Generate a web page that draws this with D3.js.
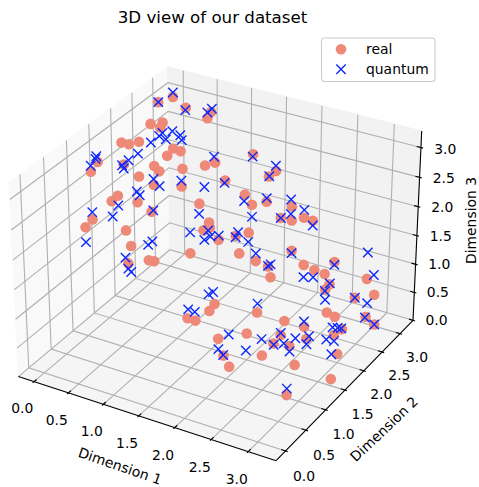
<!DOCTYPE html>
<html>
<head>
<meta charset="utf-8">
<script src="https://cdn.jsdelivr.net/npm/d3@7"></script>
<style>
body { margin: 0; background: #fff; }
text { font-family: "DejaVu Sans"; fill: #000; }
</style>
</head>
<body>
<svg id="chart" width="479" height="487"></svg>
<script>
var realDim1 = [0.08,0.04,0.31,0.66,0.66,0.15,0.21,0.23,0.13,0.18,0.22,0.44,0.54,0.46,0.14,0.17,0.29,0.46,0.52,0.68,0.94,1.05,0.45,1.29,0.58,0.78,0.47,0.47,0.61,1.11,0.74,0.39,0.34,
    0.62,1.34,1.38,1.32,1.56,1.75,0.65,1.16,0.77,0.81,1.85,0.63,1.47,1.86,1.81,1.62,1.77,1.93,2.27,2.20,2.35,2.48,2.58,1.89,2.08,2.43,2.25,2.52,2.60,2.67,2.74,2.28,2.97,
    3.03,2.71,2.68,2.89,2.27,2.73,2.80,2.97,2.55,2.69,3.06,2.27,2.61,2.91,2.90,2.77,2.62,2.72,2.58,3.02,2.85,3.12,2.97,1.70,1.68,1.46,1.57,1.96,2.12,2.25];
var realDim2 = [2.98,2.69,2.91,2.94,2.85,2.32,2.51,2.42,1.67,1.76,1.93,2.38,2.39,2.20,1.11,0.91,1.46,1.89,1.91,2.20,2.31,2.37,1.55,2.20,1.68,2.01,1.03,0.89,1.25,1.88,1.36,0.58,0.50,
    0.96,1.72,1.67,1.62,1.57,1.66,1.02,1.57,1.23,1.29,1.57,0.98,2.58,2.46,2.37,2.11,2.02,2.10,2.12,1.97,1.97,2.04,2.08,1.73,1.57,1.83,1.57,1.98,2.11,2.25,2.37,1.58,2.82,
    2.92,2.31,2.26,2.66,1.27,2.22,2.30,2.82,1.45,1.70,2.89,1.02,1.25,2.29,2.09,1.61,1.05,1.27,0.84,1.96,1.17,1.61,0.75,1.23,1.14,0.99,0.99,0.87,0.72,0.63];
var realDim3 = [3.05,3.10,2.97,2.99,2.93,2.96,2.90,2.87,2.99,2.93,2.89,2.60,2.58,2.58,2.98,2.94,2.79,2.58,2.50,2.43,2.51,2.56,2.59,2.43,2.42,2.27,2.57,2.56,2.38,2.16,2.20,2.41,2.31,
    2.08,2.01,1.97,1.93,1.88,1.96,1.79,1.51,1.46,1.42,1.75,1.51,2.72,2.63,2.57,2.35,2.28,2.34,2.36,2.23,2.24,2.29,2.25,2.02,1.70,1.84,1.67,1.54,1.40,1.27,1.43,1.49,0.94,
    0.62,1.07,1.00,0.68,1.08,0.64,0.54,0.27,0.92,0.71,0.12,0.88,0.83,0.37,0.39,0.59,0.82,0.67,0.74,0.19,0.46,0.02,0.27,1.04,0.97,0.86,0.86,0.77,0.64,0.56];

var quantumDim1 = [0.05,0.04,0.32,0.65,0.62,0.28,0.28,0.28,0.34,0.32,0.43,0.48,0.29,0.29,0.09,0.11,0.13,0.29,0.32,1.00,0.54,0.62,0.74,1.07,1.30,0.54,0.58,0.53,0.53,0.74,0.39,0.34,1.17,
    1.16,1.38,1.36,1.44,1.54,1.76,1.76,0.80,0.77,0.61,0.63,0.65,1.48,1.83,1.81,1.91,1.65,2.22,2.30,2.20,2.44,2.58,1.84,1.94,2.08,2.43,2.25,2.28,2.74,2.97,3.02,2.52,2.59,
    2.71,2.68,2.68,2.89,2.98,2.22,2.66,3.06,2.97,2.85,2.88,2.90,2.60,2.77,2.48,2.71,2.88,2.93,2.63,2.67,2.80,2.75,2.36,2.99,2.94,1.61,1.57,1.41,1.51,2.06,2.02,2.11];
var quantumDim2 = [3.03,2.69,2.88,2.98,2.92,2.11,2.31,2.39,2.37,2.56,2.57,2.52,1.79,1.57,1.16,1.11,0.97,1.42,1.41,2.43,1.74,1.75,2.07,2.07,2.17,1.35,1.35,0.94,0.81,1.40,0.58,0.50,1.77,
    1.57,1.63,1.57,1.58,1.61,1.70,1.64,1.27,1.22,0.95,0.98,1.01,2.55,2.51,2.38,2.14,2.04,2.19,2.04,1.97,2.12,2.08,1.90,1.63,1.57,1.83,1.57,1.58,2.37,2.82,2.91,1.98,2.10,
    2.32,2.25,2.26,2.66,2.83,1.37,1.75,2.89,2.80,2.15,2.23,2.29,1.27,1.68,1.01,1.44,1.93,2.04,1.04,1.22,1.56,1.22,0.84,1.86,0.81,1.35,1.31,1.09,1.08,0.95,0.77,0.73];
var quantumDim3 = [3.09,3.10,2.95,3.02,2.98,2.80,2.80,2.81,2.73,2.76,2.72,2.68,2.79,2.80,3.03,3.02,2.99,2.80,2.76,2.61,2.47,2.37,2.32,2.32,2.41,2.48,2.43,2.48,2.37,2.20,2.53,2.06,2.07,
    1.87,1.94,1.81,1.89,1.92,2.00,1.95,1.77,1.73,1.62,1.42,1.35,2.70,2.68,2.57,2.37,2.29,2.42,2.29,2.23,2.36,2.17,2.17,1.94,1.83,1.80,1.68,1.71,1.38,1.40,0.97,1.33,1.28,
    1.08,0.98,0.82,0.68,0.51,1.15,0.76,0.12,0.27,0.47,0.42,0.38,0.85,0.59,0.87,0.69,0.41,0.33,0.81,0.73,0.54,0.62,0.74,0.24,0.33,1.14,1.11,0.93,0.93,0.83,0.68,0.64];

var tickValues = [0, 0.5, 1, 1.5, 2, 2.5, 3];
var seriesNames = ['real', 'quantum'];
var axisTitles = ['Dimension 1', 'Dimension 2', 'Dimension 3'];

var real = realDim1.map(function(d, i) { return [d, realDim2[i], realDim3[i]]; });
var quantum = quantumDim1.map(function(d, i) { return [d, quantumDim2[i], quantumDim3[i]]; });

// limits with the 5% margin, panes sit 1/48 of the range further out
var xLim = [-0.157, 3.299], yLim = [-0.157, 3.299], zLim = [0.066, 3.21];
function pane(lim) { var d = (lim[1] - lim[0]) / 48; return [lim[0] - d, lim[1] + d]; }
var xPane = pane(xLim), yPane = pane(yLim), zPane = pane(zLim);

// same camera as a default mplot3d axes: elev 30, azim -60
var box = [1.1428, 1.1428, 0.857], dist = 10;
var el = 30 * Math.PI / 180, az = -60 * Math.PI / 180;
var w = [Math.cos(el) * Math.cos(az), Math.cos(el) * Math.sin(az), Math.sin(el)];
var ul = Math.hypot(w[0], w[1]);
var u = [-w[1] / ul, w[0] / ul, 0];
var v = [w[1] * u[2] - w[2] * u[1], w[2] * u[0] - w[0] * u[2], w[0] * u[1] - w[1] * u[0]];
var eye = [0, 1, 2].map(function(i) { return box[i] / 2 + dist * w[i]; });
function dot(a, b) { return a[0] * b[0] + a[1] * b[1] + a[2] * b[2]; }

var xWorld = d3.scaleLinear(xLim, [0, box[0]]);
var yWorld = d3.scaleLinear(yLim, [0, box[1]]);
var zWorld = d3.scaleLinear(zLim, [0, box[2]]);
function view(p) {
    var q = [xWorld(p[0]) - eye[0], yWorld(p[1]) - eye[1], zWorld(p[2]) - eye[2]];
    var d = -dot(q, w);
    return [dot(q, u) / d, dot(q, v) / d];
}
var sx = d3.scaleLinear([view([xPane[0], yPane[0], zPane[1]])[0], view([xPane[1], yPane[1], zPane[1]])[0]], [9, 421.7]);
var sy = d3.scaleLinear([view([xPane[1], yPane[0], zPane[0]])[1], view([xPane[0], yPane[1], zPane[1]])[1]], [460.7, 66.7]);
function project(p) { var a = view(p); return [sx(a[0]), sy(a[1])]; }

var svg = d3.select('#chart');
var line = d3.line();
var salmon = '#ee8877', blue = '#0a28ff';

function poly(pts, fill) {
    svg.append('path').attr('d', line(pts.map(project)) + 'Z').attr('fill', fill).attr('stroke', fill).attr('stroke-width', 1);
}
function stroke(pts, color) {
    svg.append('path').attr('d', line(pts.map(project))).attr('fill', 'none').attr('stroke', color).attr('stroke-width', 1.11);
}
function label(p, txt) {
    var a = project(p);
    svg.append('text').attr('x', a[0]).attr('y', a[1]).attr('text-anchor', 'middle').attr('dominant-baseline', 'central').attr('font-size', 13.9).text(txt);
}
function axisTitle(x, y, angle, txt) {
    svg.append('text').attr('transform', 'translate(' + x + ',' + y + ') rotate(' + angle + ')').attr('text-anchor', 'middle').attr('dominant-baseline', 'central').attr('font-size', 13.9).text(txt);
}
function cross(x, y) {
    var r = 4.7;
    svg.append('path').attr('d', 'M' + (x - r) + ',' + (y - r) + 'L' + (x + r) + ',' + (y + r) + 'M' + (x - r) + ',' + (y + r) + 'L' + (x + r) + ',' + (y - r))
        .attr('stroke', blue).attr('stroke-width', 1.39).attr('fill', 'none');
}

poly([[xPane[0], yPane[0], zPane[0]], [xPane[0], yPane[1], zPane[0]], [xPane[0], yPane[1], zPane[1]], [xPane[0], yPane[0], zPane[1]]], '#f9f9f9');
poly([[xPane[0], yPane[1], zPane[0]], [xPane[1], yPane[1], zPane[0]], [xPane[1], yPane[1], zPane[1]], [xPane[0], yPane[1], zPane[1]]], '#f2f2f2');
poly([[xPane[0], yPane[0], zPane[0]], [xPane[1], yPane[0], zPane[0]], [xPane[1], yPane[1], zPane[0]], [xPane[0], yPane[1], zPane[0]]], '#f5f5f5');

tickValues.forEach(function(t) {
    stroke([[t, yPane[0], zPane[0]], [t, yPane[1], zPane[0]], [t, yPane[1], zPane[1]]], '#b0b0b0');
    stroke([[xPane[1], t, zPane[0]], [xPane[0], t, zPane[0]], [xPane[0], t, zPane[1]]], '#b0b0b0');
    stroke([[xPane[0], yPane[0], t], [xPane[0], yPane[1], t], [xPane[1], yPane[1], t]], '#b0b0b0');
});

stroke([[xPane[0], yPane[0], zPane[0]], [xPane[1], yPane[0], zPane[0]]], '#000');
stroke([[xPane[1], yPane[0], zPane[0]], [xPane[1], yPane[1], zPane[0]]], '#000');
stroke([[xPane[1], yPane[1], zPane[0]], [xPane[1], yPane[1], zPane[1]]], '#000');

var dx = (xLim[1] - xLim[0]) / 12, dy = (yLim[1] - yLim[0]) / 12;
tickValues.forEach(function(t) {
    stroke([[t, yPane[0] + 0.2 * dy, zPane[0]], [t, yPane[0] - 0.1 * dy, zPane[0]]], '#000');
    stroke([[xPane[1] - 0.2 * dx, t, zPane[0]], [xPane[1] + 0.1 * dx, t, zPane[0]]], '#000');
    stroke([[xPane[1] - 0.2 * dx, yPane[1], t], [xPane[1] + 0.1 * dx, yPane[1], t]], '#000');
    var s = t.toFixed(1);
    label([t, yPane[0] - 0.27, zPane[0] - 0.28], s);
    label([xPane[1] + 0.25, t, zPane[0] - 0.32], s);
    label([xPane[1] + 0.27, yPane[1] + 0.12, t + 0.012 * (3 - t)], s);
});

real.forEach(function(p) {
    var a = project(p);
    svg.append('circle').attr('cx', a[0]).attr('cy', a[1]).attr('r', 5.3).attr('fill', salmon);
});
quantum.forEach(function(p) {
    var a = project(p);
    cross(a[0], a[1]);
});

svg.append('text').attr('x', 212.5).attr('y', 22.7).attr('text-anchor', 'middle').attr('font-size', 16.67).text('3D view of our dataset');
axisTitle(120, 466, 19, axisTitles[0]);
axisTitle(384, 429, -43.5, axisTitles[1]);
axisTitle(471, 220.5, -90, axisTitles[2]);

svg.append('rect').attr('x', 321.5).attr('y', 38).attr('width', 113.5).attr('height', 43.5).attr('rx', 3).attr('fill', '#fff').attr('fill-opacity', 0.8).attr('stroke', '#ccc').attr('stroke-width', 1.11);
svg.append('circle').attr('cx', 341).attr('cy', 49.3).attr('r', 5.3).attr('fill', salmon);
cross(341, 69.3);
svg.append('text').attr('x', 366).attr('y', 54.3).attr('font-size', 13.9).text(seriesNames[0]);
svg.append('text').attr('x', 366).attr('y', 74).attr('font-size', 13.9).text(seriesNames[1]);
</script>
</body>
</html>
